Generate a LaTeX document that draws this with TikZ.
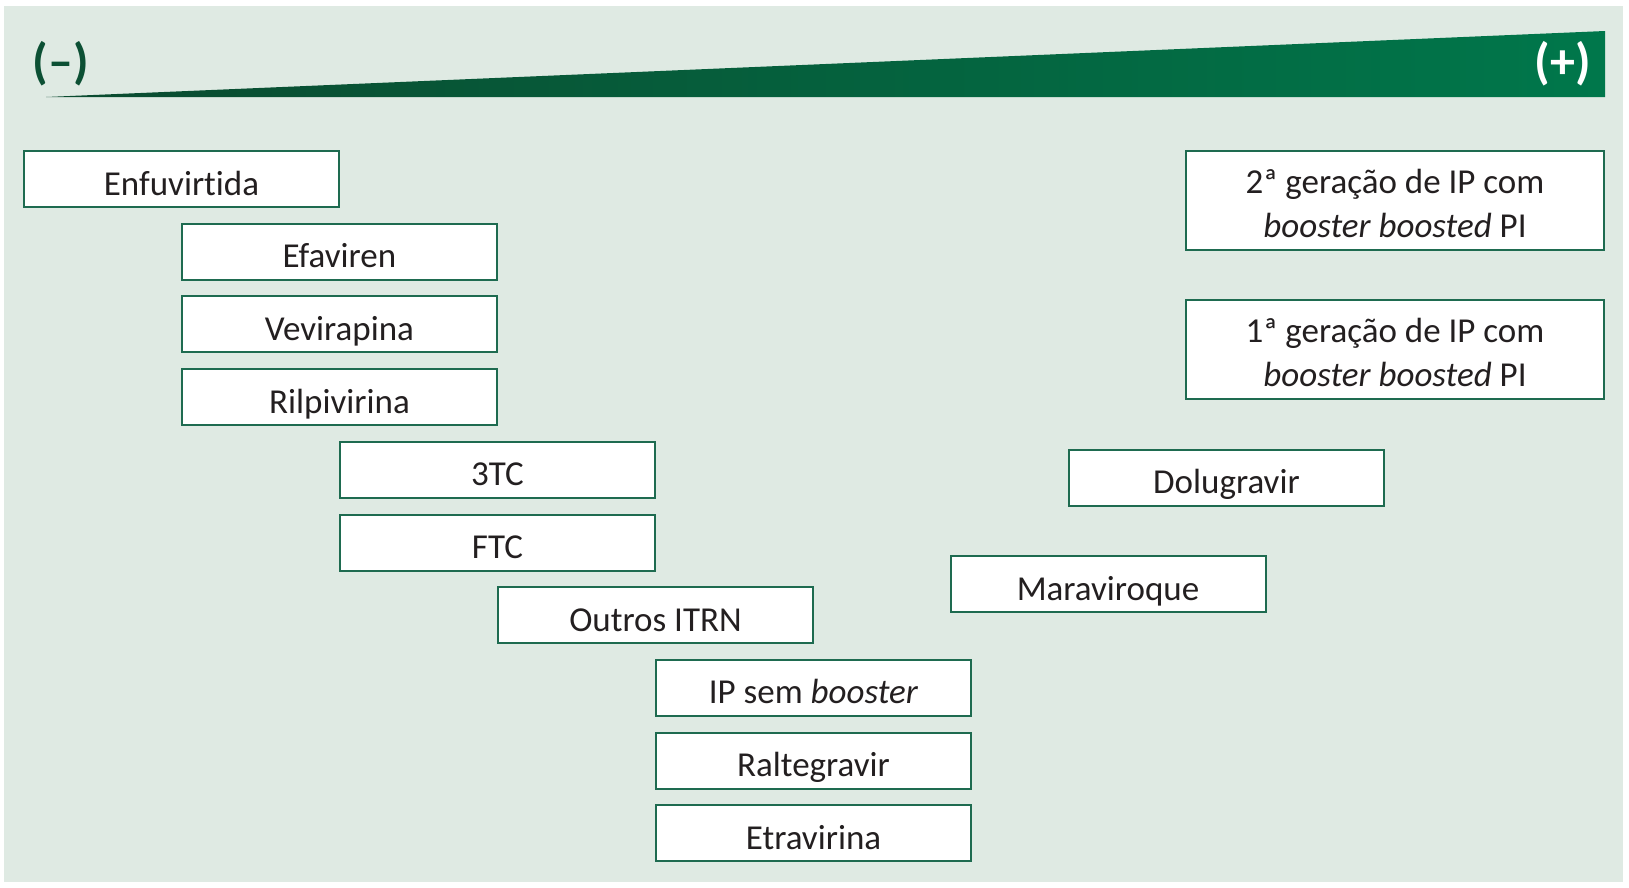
\documentclass[tikz,border=0pt]{standalone}
\usepackage{fontspec}
\setmainfont{Carlito}[Ligatures={NoCommon,NoContextual}]
\definecolor{bgcol}{HTML}{DFEAE3}
\definecolor{boxcol}{HTML}{1E6B50}
\definecolor{textcol}{HTML}{231F20}
\definecolor{wedgeL}{HTML}{0A4A2F}
\definecolor{wedgeR}{HTML}{00774B}
\definecolor{minuscol}{HTML}{0C5034}
\tikzset{
  drug/.style={draw=boxcol, line width=2pt, fill=white, minimum width=315pt,
    minimum height=56pt, inner sep=0pt, text=textcol, align=center,
    font=\fontsize{35}{44}\selectfont, text height=32pt, text depth=0pt},
  wide/.style={draw=boxcol, line width=2pt, fill=white, minimum width=418pt,
    minimum height=99pt, inner sep=0pt, text=textcol, align=center,
    font=\fontsize{35}{44}\selectfont},
  sign/.style={font=\fontsize{50}{54}\selectfont\bfseries, inner sep=0pt}
}
\begin{document}
\begin{tikzpicture}[x=1pt,y=-1pt]
\useasboundingbox (0,0) rectangle (1629,887);
\fill[white] (0,0) rectangle (1629,887);
\fill[bgcol] (4,6) rectangle (1623,882);
\shade[left color=wedgeL, right color=wedgeR] (46,97) -- (1605,31) -- (1605,97) -- cycle;
\node[sign, text=minuscol] (minus) at (61,64) {(–)};
\node[sign, text=white] (plus) at (1563,64) {(+)};

\node[drug] (enf) at (181.5,179) {Enfuvirtida};
\node[drug] (efa) at (339.5,251.7) {Efaviren};
\node[drug] (vev) at (339.5,324.4) {Vevirapina};
\node[drug] (ril) at (339.5,397.1) {Rilpivirina};
\node[drug] (tc3) at (497.5,469.8) {3TC};
\node[drug] (ftc) at (497.5,542.5) {FTC};
\node[drug] (itrn) at (655.5,615.2) {Outros ITRN};
\node[drug] (ipsb) at (813.5,687.9) {IP sem \textit{booster}};
\node[drug] (ral) at (813.5,760.6) {Raltegravir};
\node[drug] (etr) at (813.5,833.3) {Etravirina};

\node[wide] (ip2) at (1395,200.5) {\strut 2ª geração de IP com\\\textit{booster boosted} PI};
\node[wide] (ip1) at (1395,349.5) {\strut 1ª geração de IP com\\\textit{booster boosted} PI};
\node[drug] (dol) at (1226.5,477.5) {Dolugravir};
\node[drug] (mar) at (1108,584) {Maraviroque};
\end{tikzpicture}
\end{document}
